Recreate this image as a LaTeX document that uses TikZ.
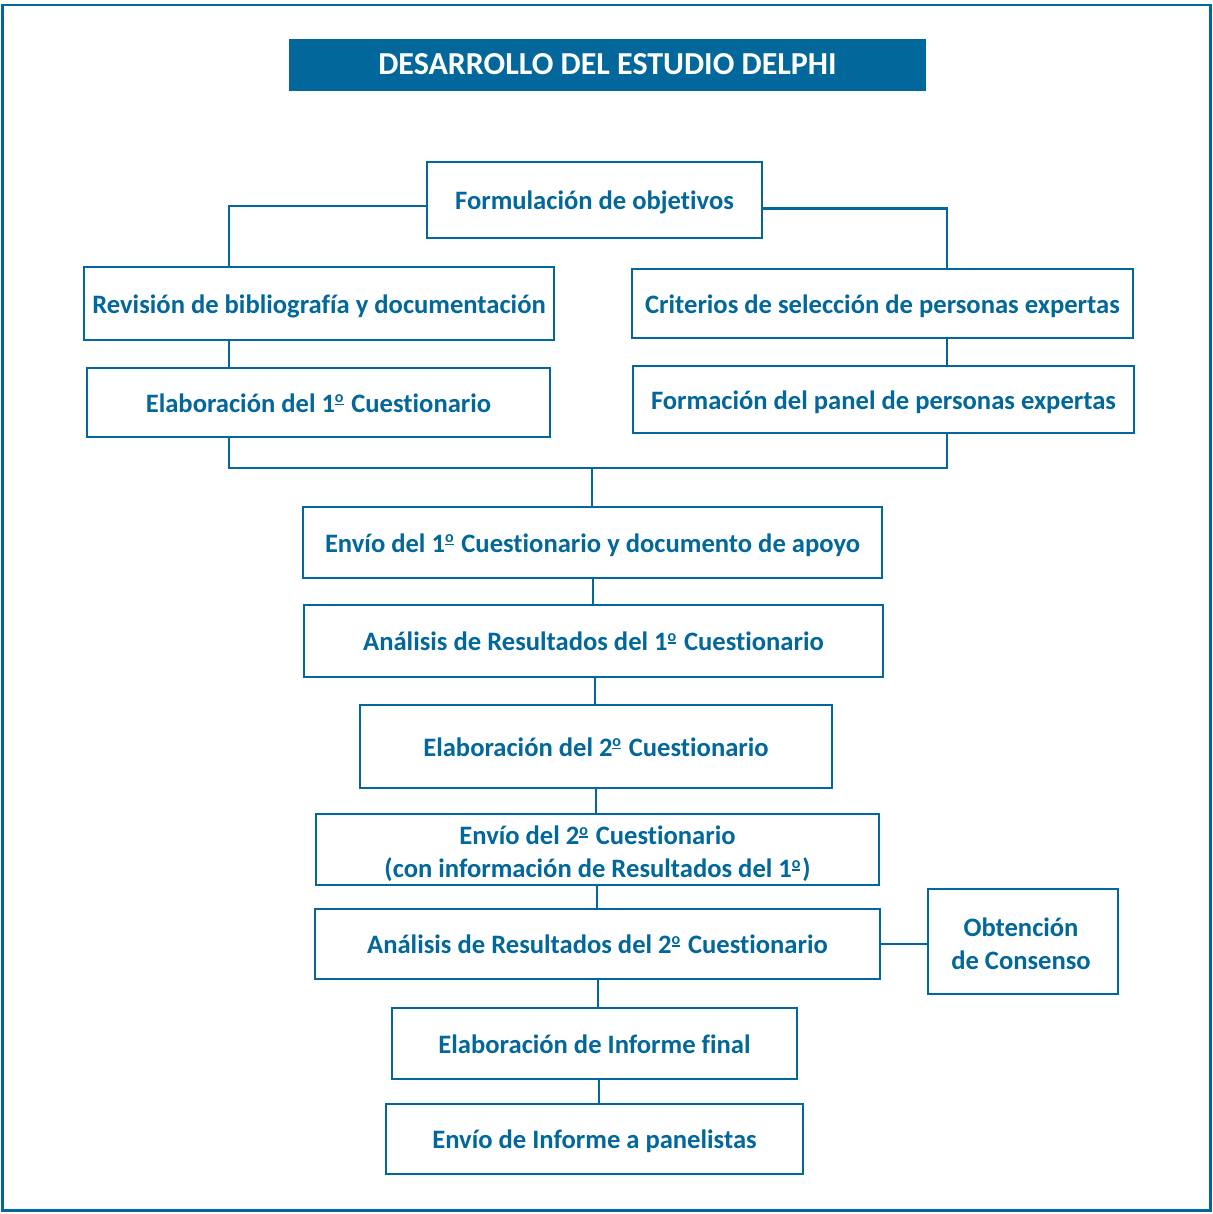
\documentclass[tikz,border=0pt]{standalone}
\usepackage{fontspec}
\setmainfont{Carlito}[Ligatures={NoCommon,NoRare,NoContextual}]
\newcommand{\ordo}{\makebox[5.2pt][l]{\raisebox{4.6pt}{\fontsize{8}{8}\selectfont o}\llap{\rule[3.4pt]{4.3pt}{0.8pt}}}}
\definecolor{mainblue}{HTML}{02679A}
\tikzset{
  box/.style={draw=mainblue, line width=0.8pt, fill=white, text=mainblue, font=\fontsize{13.3}{16.5}\selectfont\bfseries, inner sep=0pt, align=center, text height=11.5pt, text depth=2pt},
  boxml/.style={draw=mainblue, line width=0.8pt, fill=white, inner sep=0pt},
  mltext/.style={text=mainblue, font=\fontsize{13.3}{16.5}\selectfont\bfseries, inner sep=0pt, align=center},
  titlebox/.style={fill=mainblue, text=white, font=\fontsize{16}{19}\selectfont\bfseries, inner sep=0pt, align=center, text height=12pt, text depth=2pt},
  conn/.style={draw=mainblue, line width=1.2pt},
  frame/.style={draw=mainblue, line width=1.1pt}
}
\begin{document}
\begin{tikzpicture}[x=0.5pt,y=-0.5pt]
\useasboundingbox (0,0) rectangle (1213,1214);
\draw[frame] (2.5,5) rectangle (1210.5,1211);
\draw[frame, line width=1.6pt] (2.8,5) -- (2.8,1210.7) -- (1210.5,1210.7);

\node[titlebox, minimum width=318.5pt, minimum height=26pt] (title) at (607.5,65) {DESARROLLO DEL ESTUDIO DELPHI};

\node[box, minimum width=167.5pt, minimum height=38pt] (form) at (594.5,200) {Formulación de objetivos};
\node[box, minimum width=235pt, minimum height=36.5pt] (rev) at (319,303.5) {Revisión de bibliografía y documentación};
\node[box, minimum width=250.5pt, minimum height=34.5pt] (crit) at (882.5,303.5) {Criterios de selección de personas expertas};
\node[box, minimum width=231.5pt, minimum height=34.5pt] (elab1) at (318.5,402.5) {Elaboración del 1\ordo{} Cuestionario};
\node[box, minimum width=250.5pt, minimum height=33.5pt] (panel) at (883.5,399.5) {Formación del panel de personas expertas};
\node[box, minimum width=289.5pt, minimum height=35.5pt] (envio1) at (592.5,542.5) {Envío del 1\ordo{} Cuestionario y documento de apoyo};
\node[box, minimum width=289.5pt, minimum height=36pt] (anal1) at (593.5,641) {Análisis de Resultados del 1\ordo{} Cuestionario};
\node[box, minimum width=236pt, minimum height=41.5pt] (elab2) at (596,746.5) {Elaboración del 2\ordo{} Cuestionario};
\node[boxml, minimum width=281.5pt, minimum height=35.5pt] (envio2) at (597.5,849.5) {};
\node[mltext] (envio2t) at (597.5,853.5) {Envío del 2\ordo{} Cuestionario\\(con información de Resultados del 1\ordo)};
\node[box, minimum width=282.5pt, minimum height=35pt] (anal2) at (597.5,944) {Análisis de Resultados del 2\ordo{} Cuestionario};
\node[boxml, minimum width=95pt, minimum height=52.5pt] (obt) at (1023,941.5) {};
\node[mltext] (obtt) at (1021,944) {Obtención\\de Consenso};
\node[box, minimum width=202.5pt, minimum height=35.5pt] (elabinf) at (594.5,1043.5) {Elaboración de Informe final};
\node[box, minimum width=208.5pt, minimum height=35pt] (envinf) at (594.5,1139) {Envío de Informe a panelistas};

\coordinate (cL) at (229,0);
\coordinate (cR) at (947,0);
\coordinate (hL) at (0,206);
\coordinate (hR) at (0,208.5);
\coordinate (busL) at (229,468);
\coordinate (busR) at (947,468);
\coordinate (busM) at (592,468);
\coordinate (v1) at (593,0);
\coordinate (v2) at (595,0);
\coordinate (v3) at (596,0);
\coordinate (v4) at (597,0);
\coordinate (v5) at (598,0);
\coordinate (v6) at (599,0);

\draw[conn] (form.west |- hL) -| (rev.north -| cL);
\draw[conn] (form.east |- hR) -| (crit.north -| cR);
\draw[conn] (rev.south -| cL) -- (elab1.north -| cL);
\draw[conn] (crit.south -| cR) -- (panel.north -| cR);
\draw[conn] (elab1.south -| cL) -- (busL) -- (busR) -- (panel.south -| cR);
\draw[conn] (busM) -- (envio1.north -| busM);
\draw[conn] (envio1.south -| v1) -- (anal1.north -| v1);
\draw[conn] (anal1.south -| v2) -- (elab2.north -| v2);
\draw[conn] (elab2.south -| v3) -- (envio2.north -| v3);
\draw[conn] (envio2.south -| v4) -- (anal2.north -| v4);
\draw[conn] (anal2.south -| v5) -- (elabinf.north -| v5);
\draw[conn] (elabinf.south -| v6) -- (envinf.north -| v6);
\draw[conn] (anal2.east) -- (anal2.east -| obt.west);
\end{tikzpicture}
\end{document}
